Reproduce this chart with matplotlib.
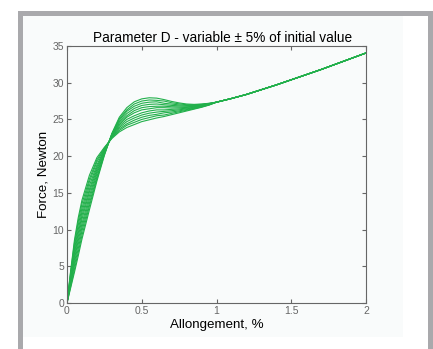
import matplotlib
matplotlib.use('Agg')

import matplotlib.pyplot as plt
from matplotlib.patches import Rectangle

# elongation grid (%) shared by every curve up to the point where they merge
elong = [0, 0.025, 0.05, 0.075, 0.1, 0.15, 0.2, 0.25, 0.3, 0.35, 0.4, 0.45,
         0.5, 0.55, 0.6, 0.65, 0.7, 0.75, 0.8, 0.85, 0.9, 0.95, 1.0]

# force (N), one row per value of parameter D (-5% ... +5%)
force_curves = [
	[0, 2.1, 4.2, 6.4, 8.7, 12.7, 16.6, 20.1, 23.1, 25.3, 26.6, 27.4, 27.8, 27.95, 27.9, 27.7, 27.45, 27.25, 27.1, 27.05, 27.1, 27.2, 27.35],
	[0, 2.3, 4.6, 6.9, 9.2, 13.2, 16.9, 20.2, 23.0, 25.1, 26.3, 27.1, 27.5, 27.65, 27.6, 27.5, 27.27, 27.12, 27.0, 26.99, 27.06, 27.18, 27.35],
	[0, 2.6, 5.1, 7.4, 9.8, 13.6, 17.2, 20.3, 23.0, 24.9, 26.1, 26.8, 27.2, 27.35, 27.4, 27.2, 27.09, 26.98, 26.91, 26.92, 27.01, 27.15, 27.35],
	[0, 2.8, 5.5, 8.0, 10.3, 14.1, 17.6, 20.4, 22.9, 24.7, 25.8, 26.5, 26.9, 27.05, 27.1, 27.0, 26.91, 26.85, 26.82, 26.86, 26.97, 27.13, 27.35],
	[0, 3.1, 6.0, 8.5, 10.8, 14.6, 17.9, 20.5, 22.8, 24.5, 25.5, 26.2, 26.6, 26.75, 26.8, 26.8, 26.73, 26.71, 26.72, 26.79, 26.92, 27.1, 27.35],
	[0, 3.3, 6.4, 9.0, 11.4, 15.1, 18.2, 20.7, 22.8, 24.3, 25.3, 25.9, 26.3, 26.45, 26.6, 26.6, 26.55, 26.58, 26.63, 26.73, 26.88, 27.08, 27.35],
	[0, 3.5, 6.8, 9.5, 11.9, 15.5, 18.5, 20.8, 22.7, 24.1, 25.0, 25.5, 25.9, 26.15, 26.3, 26.3, 26.37, 26.44, 26.53, 26.66, 26.83, 27.05, 27.35],
	[0, 3.8, 7.3, 10.0, 12.4, 16.0, 18.8, 20.9, 22.6, 23.9, 24.7, 25.2, 25.6, 25.85, 26.0, 26.1, 26.19, 26.31, 26.44, 26.6, 26.79, 27.03, 27.35],
	[0, 4.0, 7.7, 10.6, 12.9, 16.5, 19.2, 21.0, 22.5, 23.7, 24.4, 24.9, 25.3, 25.55, 25.7, 25.9, 26.01, 26.17, 26.34, 26.53, 26.74, 27.0, 27.35],
	[0, 4.3, 8.2, 11.1, 13.5, 16.9, 19.5, 21.1, 22.5, 23.5, 24.2, 24.6, 25.0, 25.25, 25.5, 25.6, 25.83, 26.04, 26.25, 26.47, 26.7, 26.98, 27.35],
	[0, 4.5, 8.6, 11.6, 14.0, 17.4, 19.8, 21.2, 22.4, 23.3, 23.9, 24.3, 24.7, 24.95, 25.2, 25.4, 25.65, 25.9, 26.15, 26.4, 26.65, 26.95, 27.35],
]

# common tail after all curves merge
tail_elong = [1.1, 1.2, 1.3, 1.4, 1.5, 1.6, 1.7, 1.8, 1.9, 2.0]
tail_force = [27.85, 28.4, 29.05, 29.7, 30.4, 31.1, 31.8, 32.55, 33.3, 34.05]

x_ticks = [0, 0.5, 1, 1.5, 2]
x_ticklabels = ["0", "0.5", "1", "1.5", "2"]
y_ticks = [0, 5, 10, 15, 20, 25, 30, 35]

plt.rcParams['font.family'] = ['Liberation Sans', 'DejaVu Sans']

fig = plt.figure(figsize=(4.33, 3.49), dpi=100)
fig.patch.set_facecolor('white')

W, H = 433.0, 349.0
# off-white figure panel and grey frame
fig.patches.append(Rectangle((22 / W, 1 - 337 / H), (403 - 22) / W, (337 - 15) / H,
                             transform=fig.transFigure, facecolor='#f9fbfb', edgecolor='none', zorder=-2))
fig.patches.append(Rectangle((19.5 / W, -0.05), (429.5 - 19.5) / W, 1 - 12.5 / H + 0.05,
                             transform=fig.transFigure, facecolor='none', edgecolor='#a9a9ac',
                             linewidth=3.6, zorder=-1))

ax = fig.add_axes([67 / W, 1 - 303 / H, (366 - 67) / W, (303 - 46) / H])
ax.set_zorder(2)
ax.set_facecolor('#f9fbfb')

green = '#22b04b'
for fc in force_curves:
	ax.plot(elong + tail_elong, fc + tail_force, color=green, linewidth=0.8)

ax.set_xlim(0, 2)
ax.set_ylim(0, 35)
ax.set_xticks(x_ticks)
ax.set_xticklabels(x_ticklabels)
ax.set_yticks(y_ticks)
ax.tick_params(direction='in', top=True, right=True, length=3, width=0.8,
               colors='#666666', labelsize=7.5, pad=2)
for s in ax.spines.values():
	s.set_color('#666666')
	s.set_linewidth(0.8)

ax.set_title("Parameter D - variable \u00b1 5% of initial value", fontsize=9.8, pad=3, x=0.52)
ax.set_xlabel("Allongement, %", fontsize=9.6, labelpad=2)
ax.set_ylabel("Force, Newton", fontsize=9.6, labelpad=2)

plt.savefig("out.png", dpi=100)
